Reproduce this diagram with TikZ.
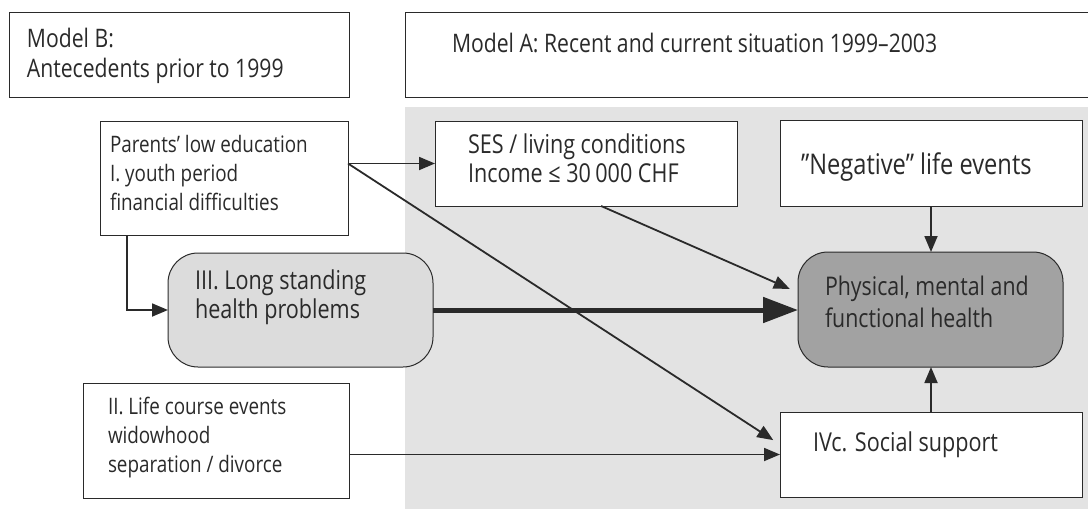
\documentclass[tikz,border=0pt]{standalone}
\usepackage{fontspec}
\newfontfamily\osf[FakeStretch=0.83]{Open Sans}
\usetikzlibrary{arrows.meta,calc}
\definecolor{ink}{HTML}{2A2A2A}
\definecolor{bgray}{HTML}{E3E3E3}
\definecolor{lsgray}{HTML}{DCDCDC}
\definecolor{phgray}{HTML}{A2A2A2}
\newcommand\fsTitle{\osf\fontsize{25.5}{30}\selectfont}
\newcommand\fsBig{\osf\fontsize{26}{29}\selectfont}
\newcommand\fsNeg{\osf\fontsize{28.5}{30}\selectfont}
\newcommand\fsPh{\osf\fontsize{25.7}{32}\selectfont}
\newcommand\fsSmall{\osf\fontsize{22.7}{28.7}\selectfont}
\begin{document}
\begin{tikzpicture}[x=1pt,y=-1pt,
  box/.style={draw=ink, line width=1pt, fill=white, inner sep=0pt, outer sep=0pt, anchor=north west},
  rbox/.style={box, rounded corners=30pt},
  txt/.style={inner sep=0pt, outer sep=0pt, align=left, text=ink, anchor=base west},
  arr/.style={draw=ink, line width=1.8pt, -{Triangle[length=16pt,width=13pt]}},
  bigarr/.style={draw=ink, line width=5pt, -{Triangle[length=35pt,width=25pt]}}]
\useasboundingbox (0,0) rectangle (1088,509);
% shaded region of model A
\fill[bgray] (405,107) rectangle (1088,509);
% header boxes
\node[box, minimum width=340pt, minimum height=85pt] (mb) at (9,12) {};
\node[box, minimum width=700pt, minimum height=85pt] (ma) at (405,12) {};
% (multi-line texts are placed by the baseline of their last line)
\node[txt, font=\fsTitle] (mbt) at (27,77) {Model B:\\Antecedents prior to 1999};
\node[txt, font=\fsTitle] (mat) at (452,52) {Model A: Recent and current situation 1999–2003};
% boxes
\node[box, minimum width=248pt, minimum height=114pt] (pb) at (100,121) {};
\node[box, minimum width=302pt, minimum height=85pt] (ses) at (435,121) {};
\node[box, minimum width=302pt, minimum height=86pt] (neg) at (780,120) {};
\node[rbox, fill=lsgray, minimum width=265pt, minimum height=114pt] (ls) at (168,253) {};
\node[rbox, fill=phgray, minimum width=265pt, minimum height=115pt] (ph) at (798,252) {};
\node[box, minimum width=266pt, minimum height=115pt] (ii) at (83,383) {};
\node[box, minimum width=302pt, minimum height=85pt] (iv) at (780,412) {};
% texts
\node[txt, font=\fsSmall] (pbt) at (110,210) {Parents’ low education\\I. youth period\\financial difficulties};
\node[txt, font=\fsBig] (sest) at (468,182) {SES / living conditions\\Income ≤ 30\,000 CHF};
\node[txt, font=\fsNeg] (negt) at (801,174) {”Negative” life events};
\node[txt, font=\fsBig] (lst) at (195,318) {III. Long standing\\health problems};
\node[txt, font=\fsPh] (pht) at (825,327) {Physical, mental and\\functional health};
\node[txt, font=\fsSmall] (iit) at (108,472) {II. Life course events\\widowhood\\separation / divorce};
\node[txt, font=\fsBig] (ivt) at (813,451) {IVc. Social support};
% connectors
\draw[arr] (pb.east |- ses.west) -- (ses.west);
\draw[arr, shorten >=8pt] (pb.east |- ses.west) -- ([yshift=10pt]iv.west);
\draw[arr, shorten >=9pt] ($(ses.south west)!0.55!(ses.south east)$) -- ([yshift=17pt]ph.west);
\draw[bigarr] (ls.east) -- (ls.east -| ph.west);
\draw[arr] (neg.south) -- (neg.south |- ph.north);
\draw[arr] (iv.north) -- (iv.north |- ph.south);
\draw[arr] (ii.east |- iv.west) -- (iv.west);
\draw[arr] ([xshift=27pt]pb.south west) |- (ls.west);
\end{tikzpicture}
\end{document}
